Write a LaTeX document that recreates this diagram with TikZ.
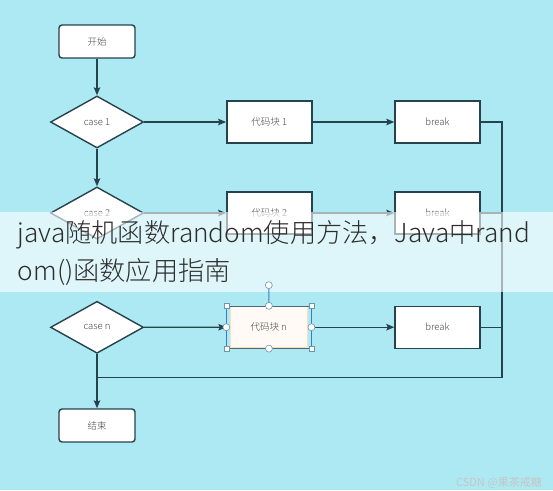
\documentclass[tikz,border=0pt]{standalone}
\usepackage{fontspec}
\setmainfont{Noto Sans CJK SC}
\IfFontExistsTF{Noto Sans CJK SC Light}{\newfontfamily\titlefont{Noto Sans CJK SC Light}}{\newfontfamily\titlefont{Noto Sans CJK SC}}
\usetikzlibrary{shapes.geometric,arrows.meta,calc}
\definecolor{bg}{RGB}{173,233,242}
\definecolor{ln}{RGB}{38,66,77}
\definecolor{tx}{RGB}{70,70,70}
\definecolor{ttx}{RGB}{45,45,45}
\definecolor{selblue}{RGB}{60,125,190}
\definecolor{hdl}{RGB}{110,150,170}
\tikzset{
  flowline/.style={draw=ln, line width=1.4pt},
  arr/.style={flowline, -{Stealth[length=8pt,width=6.5pt,inset=1.5pt]}},
  termbox/.style={draw=ln, line width=1.4pt, fill=white, rounded corners=3pt, minimum width=76pt, minimum height=33pt, inner sep=0pt, font=\titlefont\fontsize{9.5}{10}\selectfont, text=tx},
  procbox/.style={draw=ln, line width=1.4pt, fill=white, minimum width=85pt, minimum height=42pt, inner sep=0pt, font=\titlefont\fontsize{9.5}{10}\selectfont, text=tx},
  decbox/.style={diamond, draw=ln, line width=1.4pt, fill=white, minimum width=93pt, minimum height=52pt, inner sep=0pt, aspect=1.79, font=\titlefont\fontsize{9.5}{10}\selectfont, text=tx},
  handlesq/.style={draw=hdl, fill=white, line width=0.6pt, minimum size=5pt, inner sep=0pt},
  handlecirc/.style={circle, draw=hdl, fill=white, line width=0.6pt, minimum size=7pt, inner sep=0pt},
  titletext/.style={anchor=base west, inner sep=0pt, font=\titlefont\fontsize{26.2}{30}\selectfont, text=ttx},
}
\begin{document}
\begin{tikzpicture}[x=1pt,y=-1pt]
\fill[bg] (0,0) rectangle (553,490);
\useasboundingbox (0,0) rectangle (553,490);
% nodes
\node[termbox] (start) at (97,41.5) {开始};
\node[decbox] (c1) at (97,122) {case 1};
\node[procbox] (code1) at (269.3,122) {代码块 1};
\node[procbox] (brk1) at (437.5,122) {break};
\node[decbox] (c2) at (97,213) {case 2};
\node[procbox] (code2) at (269.3,213) {代码块 2};
\node[procbox] (brk2) at (437.5,213) {break};
\node[decbox] (cn) at (97,327.3) {case n};
\node[draw=orange!25, line width=0.5pt, fill=white!96!orange, minimum width=77pt, minimum height=41pt, inner sep=0pt, font=\titlefont\fontsize{9.5}{10}\selectfont, text=tx] (coden) at (268.7,327.2) {代码块 n};
\node[procbox] (brkn) at (437.5,327.2) {break};
\node[termbox] (end) at (97,425.5) {结束};
% helper coordinates
\coordinate (rt) at (502,122);
\coordinate (rb) at (502,377.3);
\coordinate (lb) at (97,377.3);
% selection frame for coden
\node[draw=ln!80, line width=0.8pt, minimum width=84.3pt, minimum height=42pt, inner sep=0pt] (sel) at (268.9,327.2) {};
\draw[selblue, line width=1.6pt] (sel.north west) -- (sel.south west);
\draw[selblue, line width=1.6pt] (sel.north east) -- (sel.south east);
% connectors
\draw[arr] (start) -- (c1);
\draw[arr] (c1) -- (code1);
\draw[arr] (code1) -- (brk1);
\draw[arr] (c1) -- (c2);
\draw[arr] (c2) -- (code2);
\draw[arr] (code2) -- (brk2);
\draw[arr] (cn) -- (sel);
\draw[arr] (sel) -- (brkn);
\draw[flowline] (brk1.east) -- (rt) -- (rb) -- (lb);
\draw[flowline] (brk2.east) -- (brk2.east -| rt);
\draw[flowline] (brkn.east) -- (brkn.east -| rt);
\draw[arr] (cn) -- (end);
% title band
\fill[white, opacity=0.6] (0,211.7) rectangle (553,291.7);
\node[titletext] (t1) at (17.6,242) {java随机函数random使用方法，Java中rand};
\node[titletext] (t2) at (17.6,280.5) {om()函数应用指南};
% handles
\node[handlecirc] (rot) at (268.8,285.2) {};
\draw[selblue, line width=1pt] (rot.south) -- (sel.north);
\node[handlesq] (h1) at (sel.north west) {};
\node[handlesq] (h2) at (sel.north east) {};
\node[handlesq] (h3) at (sel.south west) {};
\node[handlesq] (h4) at (sel.south east) {};
\node[handlecirc] (h5) at (sel.north) {};
\node[handlecirc] (h6) at (sel.south) {};
\node[handlecirc] (h7) at (sel.west) {};
\node[handlecirc] (h8) at (sel.east) {};
% watermark
\node[anchor=east, inner sep=0pt, font=\fontsize{11}{12}\selectfont, text=white!55!gray, draw=none] (wm) at (542,483) {CSDN @果茶戒糖};
\end{tikzpicture}
\end{document}
